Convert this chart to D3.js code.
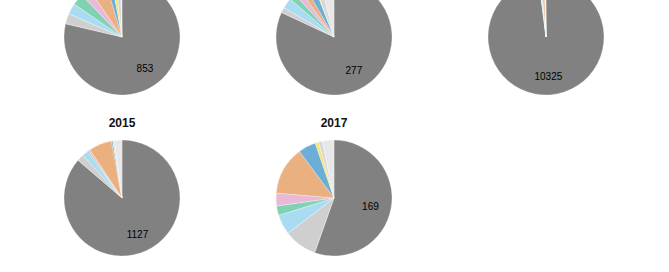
<!DOCTYPE html>
<html>
<head>
<meta charset="utf-8">
<script src="https://cdn.jsdelivr.net/npm/d3@7"></script>
<style>
  body { margin: 0; background: #fff; }
  svg { display: block; font-family: "Liberation Sans", Arial, sans-serif; }
</style>
</head>
<body>
<div id="chart"></div>
<script>
// slice categories, same order in every pie (clockwise from 12 o'clock)
const categories = ['S1', 'S2', 'S3', 'S4', 'S5', 'S6', 'S7', 'S8', 'S9', 'S10']
const colors = ['#818181', '#cfcfcf', '#a9dcf3', '#80d3b2', '#e9b9d8', '#eab07f', '#6caed6', '#f7e479', '#d6d6d6', '#e8e8e8']

// one array per pie; the top row titles are cut off in the picture
const titles = ['', '', '', '2015', '2017']
const pie1 = [853, 31, 33, 35, 28, 54, 18, 12, 15, 5]
const pie2 = [277, 5, 10, 6, 6, 6, 8, 1, 6, 13]
const pie3 = [10325, 20, 40, 10, 10, 80, 20, 5, 10, 20]
const pie2015 = [1127, 25, 20, 5, 7, 84, 5, 2, 4, 27]
const pie2017 = [169, 28, 17, 8, 11, 41, 15, 3, 3, 10]
const pies = [pie1, pie2, pie3, pie2015, pie2017]

const width = 669
const height = 272
const radius = 58

// grid of panels
const xScale = d3.scaleBand().domain([0, 1, 2]).range([16, 652])
const yScale = d3.scaleBand().domain([0, 1]).range([-43.5, 278.5])

const color = d3.scaleOrdinal().domain(categories).range(colors)

const pie = d3.pie().sort(null).value(d => d.value)
const arc = d3.arc().innerRadius(0).outerRadius(radius)
const labelArc = d3.arc().innerRadius(37).outerRadius(37)

const svg = d3.select('#chart')
  .append('svg')
  .attr('width', width)
  .attr('height', height)

pies.forEach(function(values, i) {
  const col = i % 3
  const row = Math.floor(i / 3)
  const cx = xScale(col) + xScale.bandwidth() / 2
  const cy = yScale(row) + yScale.bandwidth() / 2

  const g = svg.append('g')
    .attr('transform', `translate(${cx}, ${cy})`)

  const slices = pie(values.map((v, k) => ({ key: categories[k], value: v })))

  g.selectAll('path')
    .data(slices)
    .enter()
    .append('path')
      .attr('d', arc)
      .attr('fill', d => color(d.data.key))
      .attr('stroke', '#fff')
      .attr('stroke-width', 0.3)

  // only the main slice carries a value label
  g.append('text')
    .attr('transform', `translate(${labelArc.centroid(slices[0])})`)
    .attr('text-anchor', 'middle')
    .attr('dy', '0.6em')
    .style('font-size', '10px')
    .style('fill', '#000')
    .text(values[0])

  if (titles[i]) {
    g.append('text')
      .attr('y', -75)
      .attr('text-anchor', 'middle')
      .attr('dy', '0.35em')
      .style('font-size', '12px')
      .style('font-weight', 'bold')
      .style('fill', '#111')
      .text(titles[i])
  }
})
</script>
</body>
</html>
